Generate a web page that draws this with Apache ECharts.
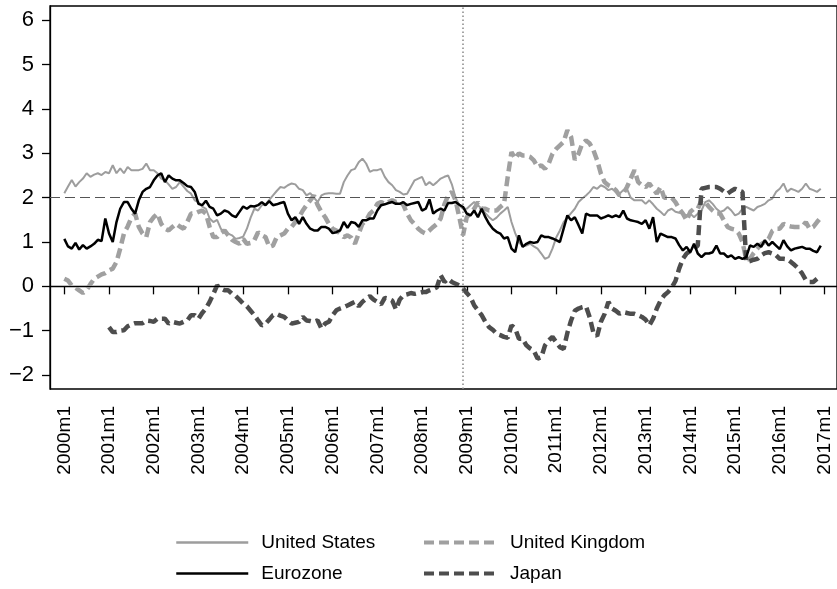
<!DOCTYPE html>
<html>
<head>
<meta charset="utf-8">
<script src="https://cdn.jsdelivr.net/npm/echarts@6/dist/echarts.min.js"></script>
<style>
  html, body { margin: 0; padding: 0; background: #fff; }
  #chart { width: 837px; height: 589px; }
</style>
</head>
<body>
<div id="chart"></div>
<script>
// monthly series, first value = 2000m1
const startYear = 2000;
const yearTicks = [2000, 2001, 2002, 2003, 2004, 2005, 2006, 2007, 2008, 2009, 2010, 2011, 2012, 2013, 2014, 2015, 2016, 2017];
const valueTicks = [-2, -1, 0, 1, 2, 3, 4, 5, 6];

const usValues = [
  2.10, 2.25, 2.40, 2.25, 2.35, 2.43, 2.55, 2.47, 2.52, 2.55, 2.51, 2.58,
  2.55, 2.73, 2.55, 2.66, 2.55, 2.69, 2.62, 2.62, 2.62, 2.65, 2.77, 2.62,
  2.62, 2.55, 2.43, 2.39, 2.30, 2.20, 2.24, 2.35, 2.25, 2.15, 2.09, 1.94,
  1.90, 1.80, 1.75, 1.53, 1.45, 1.50, 1.30, 1.22, 1.19, 1.15, 1.07, 1.09,
  1.12, 1.30, 1.55, 1.75, 1.71, 1.83, 1.85, 1.95, 2.05, 2.15, 2.24, 2.22,
  2.28, 2.32, 2.30, 2.20, 2.17, 2.05, 2.10, 2.00, 1.90, 2.05, 2.09, 2.10,
  2.10, 2.09, 2.09, 2.35, 2.50, 2.62, 2.65, 2.80, 2.88, 2.77, 2.58, 2.62,
  2.62, 2.65, 2.47, 2.35, 2.28, 2.17, 2.13, 2.07, 2.09, 2.24, 2.39, 2.43,
  2.47, 2.28, 2.35, 2.28, 2.35, 2.43, 2.47, 2.50, 2.30, 2.00, 1.83, 1.75,
  1.75, 1.83, 1.90, 1.83, 1.75, 1.65, 1.56, 1.49, 1.55, 1.64, 1.71, 1.79,
  1.45, 1.20, 1.00, 0.90, 0.92, 0.96, 0.90, 0.85, 0.74, 0.62, 0.66, 0.85,
  1.10, 1.26, 1.45, 1.55, 1.65, 1.75, 1.90, 1.98, 2.05, 2.13, 2.24, 2.20,
  2.28, 2.24, 2.17, 2.20, 2.13, 2.09, 2.17, 2.20, 2.00, 1.94, 1.94, 1.94,
  1.86, 1.94, 1.85, 1.75, 1.68, 1.60, 1.71, 1.75, 1.68, 1.66, 1.64, 1.60,
  1.64, 1.56, 1.64, 1.71, 1.90, 1.94, 1.86, 1.75, 1.68, 1.71, 1.79, 1.71,
  1.60, 1.64, 1.75, 1.79, 1.75, 1.71, 1.79, 1.82, 1.86, 1.94, 1.98, 2.13,
  2.20, 2.32, 2.13, 2.20, 2.17, 2.13, 2.20, 2.32, 2.20, 2.17, 2.13, 2.20
];

const euroValues = [
  1.07, 0.90, 0.85, 0.98, 0.83, 0.93, 0.85, 0.90, 0.96, 1.05, 1.02, 1.53,
  1.19, 1.00, 1.45, 1.75, 1.90, 1.90, 1.75, 1.64, 1.94, 2.13, 2.20, 2.24,
  2.39, 2.50, 2.55, 2.35, 2.50, 2.43, 2.39, 2.39, 2.33, 2.26, 2.24, 2.13,
  1.86, 1.83, 1.93, 1.79, 1.75, 1.60, 1.64, 1.71, 1.68, 1.60, 1.56, 1.68,
  1.80, 1.75, 1.81, 1.80, 1.83, 1.90, 1.83, 1.92, 1.83, 1.85, 1.88, 1.90,
  1.64, 1.49, 1.56, 1.41, 1.56, 1.41, 1.30, 1.26, 1.26, 1.34, 1.34, 1.30,
  1.20, 1.22, 1.26, 1.45, 1.32, 1.45, 1.43, 1.34, 1.49, 1.49, 1.53, 1.53,
  1.71, 1.83, 1.85, 1.88, 1.90, 1.86, 1.86, 1.90, 1.83, 1.86, 1.88, 1.90,
  1.71, 1.75, 1.96, 1.64, 1.71, 1.75, 1.71, 1.88, 1.88, 1.90, 1.84, 1.79,
  1.64, 1.60, 1.71, 1.56, 1.75, 1.56, 1.41, 1.30, 1.23, 1.19, 1.08, 1.11,
  0.85, 0.77, 1.15, 0.89, 0.96, 1.00, 0.98, 1.00, 1.15, 1.11, 1.11, 1.08,
  1.04, 1.00, 1.30, 1.60, 1.49, 1.56, 1.38, 1.19, 1.64, 1.60, 1.60, 1.60,
  1.53, 1.56, 1.60, 1.56, 1.60, 1.56, 1.71, 1.53, 1.49, 1.47, 1.45, 1.41,
  1.49, 1.30, 1.56, 1.00, 1.19, 1.15, 1.11, 1.11, 1.08, 0.93, 0.81, 0.89,
  0.77, 0.96, 0.74, 0.66, 0.74, 0.74, 0.77, 0.92, 0.74, 0.74, 0.66, 0.70,
  0.62, 0.66, 0.62, 0.66, 0.92, 0.89, 0.96, 0.89, 1.04, 0.92, 1.00, 0.92,
  0.84, 1.04, 0.90, 0.81, 0.85, 0.87, 0.89, 0.85, 0.85, 0.80, 0.77, 0.92
];

const ukValues = [
  0.17, 0.13, 0.02, -0.03, -0.09, -0.15, -0.08, 0.05, 0.17, 0.22, 0.27, 0.30,
  0.36, 0.40, 0.55, 0.85, 1.19, 1.35, 1.55, 1.64, 1.34, 1.19, 1.11, 1.45,
  1.56, 1.64, 1.41, 1.30, 1.26, 1.34, 1.41, 1.35, 1.30, 1.45, 1.64, 1.64,
  1.68, 1.71, 1.64, 1.34, 1.11, 1.11, 1.20, 1.26, 1.15, 1.05, 1.00, 0.96,
  1.07, 0.96, 0.98, 1.04, 1.22, 1.15, 1.11, 0.89, 0.92, 1.11, 1.15, 1.19,
  1.30, 1.34, 1.45, 1.56, 1.71, 1.83, 1.94, 2.05, 1.83, 1.68, 1.56, 1.41,
  1.30, 1.26, 1.19, 1.11, 1.15, 1.10, 0.96, 1.19, 1.41, 1.49, 1.64, 1.71,
  1.86, 1.90, 1.86, 1.90, 1.94, 1.90, 1.94, 1.83, 1.64, 1.49, 1.40, 1.30,
  1.23, 1.19, 1.26, 1.34, 1.41, 1.53, 1.85, 2.05, 2.13, 1.94, 1.56, 1.15,
  1.56, 1.65, 1.75, 1.90, 1.75, 1.75, 1.71, 1.71, 1.71, 1.79, 1.86, 2.47,
  3.03, 2.88, 3.00, 2.95, 2.95, 2.92, 2.84, 2.69, 2.73, 2.65, 2.77, 2.99,
  3.10, 3.18, 3.26, 3.52, 3.37, 2.85, 2.99, 3.22, 3.29, 3.22, 3.07, 2.84,
  2.54, 2.35, 2.28, 2.24, 2.17, 2.05, 2.09, 2.24, 2.43, 2.62, 2.35, 2.28,
  2.24, 2.32, 2.20, 2.09, 2.24, 2.00, 2.00, 2.00, 1.90, 1.75, 1.64, 1.49,
  1.68, 1.75, 1.75, 1.94, 1.90, 1.79, 1.71, 1.64, 1.64, 1.49, 1.34, 1.30,
  1.28, 1.19, 1.00, 0.60, 0.62, 0.75, 0.85, 0.95, 1.00, 1.07, 1.25, 1.30,
  1.30, 1.41, 1.37, 1.35, 1.34, 1.34, 1.34, 1.45, 1.30, 1.34, 1.45, 1.55
];

// Japan starts in 2001m1
const jpStart = 12;
const jpValues = [
  -0.92, -1.03, -1.03, -1.00, -0.99, -0.90, -0.86, -0.83, -0.83, -0.83, -0.77, -0.78,
  -0.80, -0.73, -0.73, -0.73, -0.84, -0.80, -0.82, -0.84, -0.80, -0.77, -0.65, -0.65,
  -0.73, -0.60, -0.50, -0.35, -0.17, 0.02, -0.05, -0.09, -0.09, -0.17, -0.22, -0.30,
  -0.39, -0.45, -0.55, -0.65, -0.77, -0.88, -0.84, -0.75, -0.65, -0.62, -0.66, -0.69,
  -0.77, -0.84, -0.82, -0.80, -0.69, -0.77, -0.78, -0.80, -0.77, -0.95, -0.84, -0.80,
  -0.65, -0.54, -0.50, -0.47, -0.43, -0.39, -0.35, -0.45, -0.35, -0.28, -0.22, -0.30,
  -0.35, -0.41, -0.26, -0.28, -0.32, -0.52, -0.30, -0.20, -0.18, -0.15, -0.17, -0.15,
  -0.13, -0.13, -0.09, -0.06, -0.02, 0.25, 0.10, 0.17, 0.10, 0.06, 0.02, -0.05,
  -0.15, -0.24, -0.43, -0.54, -0.65, -0.80, -0.92, -0.98, -1.07, -1.10, -1.14, -1.16,
  -0.88, -0.95, -1.18, -1.18, -1.33, -1.40, -1.45, -1.63, -1.60, -1.33, -1.22, -1.14,
  -1.26, -1.37, -1.41, -1.05, -0.77, -0.55, -0.50, -0.47, -0.45, -0.70, -1.05, -1.12,
  -0.80, -0.62, -0.35, -0.50, -0.55, -0.62, -0.58, -0.60, -0.62, -0.62, -0.65, -0.69,
  -0.75, -0.88, -0.73, -0.50, -0.32, -0.20, -0.13, -0.03, 0.12, 0.40, 0.62, 0.74,
  0.80, 0.85, 0.92, 2.20, 2.22, 2.24, 2.24, 2.24, 2.20, 2.14, 2.09, 2.15,
  2.20, 2.16, 2.13, 0.55, 0.57, 0.60, 0.62, 0.70, 0.75, 0.77, 0.74, 0.70,
  0.62, 0.62, 0.61, 0.55, 0.48, 0.40, 0.29, 0.14, 0.10, 0.10, 0.17
];

const crisisDate = 2008.9; // vertical dotted line

// month index -> decimal year
function toPairs(values, offset) {
  return values.map((v, i) => [startYear + (i + offset) / 12, v]);
}

const font = 'Liberation Sans, Arial, Helvetica, sans-serif';
const chart = echarts.init(document.getElementById('chart'), null, { renderer: 'canvas' });

function legendItem(name, left, top, gap, lineWidth) {
  return {
    data: [name],
    left: left,
    top: top,
    padding: 0,
    itemWidth: 72,
    itemHeight: 14,
    selectedMode: false,
    itemStyle: { opacity: 0 }, // hide the circle marker, keep the line
    lineStyle: { width: lineWidth },
    textStyle: { fontFamily: font, fontSize: 19, color: '#000', padding: [0, 0, 0, gap] }
  };
}

const option = {
  animation: false,
  backgroundColor: '#fff',
  grid: {
    left: 50, right: -2, top: 6, bottom: 200,
    show: true, borderColor: '#000', borderWidth: 1.3
  },
  legend: [
    legendItem('United States', 175, 533, 8, 2.5),
    legendItem('Eurozone', 175, 564, 8, 2.5),
    legendItem('United Kingdom', 422, 533, 9, 4),
    legendItem('Japan', 422, 564, 9, 4)
  ],
  xAxis: {
    type: 'value',
    min: 1999.68,
    max: 2017.28,
    splitLine: { show: false },
    axisLine: { lineStyle: { color: '#000', width: 1.3 } },
    axisTick: { customValues: yearTicks, length: 8, lineStyle: { color: '#000', width: 1.3 } },
    axisLabel: {
      customValues: yearTicks,
      rotate: 90,
      margin: 17,
      fontFamily: font,
      fontSize: 19,
      color: '#000',
      formatter: v => Math.round(v) + 'm1'
    }
  },
  yAxis: {
    type: 'value',
    min: -2.315,
    max: 6.322,
    splitLine: { show: false },
    axisLine: { show: true, lineStyle: { color: '#000', width: 1.3 } },
    axisTick: { show: true, customValues: valueTicks, length: 8, lineStyle: { color: '#000', width: 1.3 } },
    axisLabel: {
      customValues: valueTicks,
      margin: 16,
      fontFamily: font,
      fontSize: 22,
      color: '#000',
      formatter: v => (v < 0 ? '\u2212' + Math.abs(v) : String(v))
    }
  },
  series: [
    {
      name: 'refs',
      type: 'line',
      data: [],
      z: 1,
      markLine: {
        silent: true,
        symbol: 'none',
        label: { show: false },
        data: [
          { yAxis: 2, lineStyle: { type: [10, 5], color: '#555', width: 1.2 } },
          { yAxis: 0, lineStyle: { type: 'solid', color: '#000', width: 1.2 } },
          { xAxis: crisisDate, lineStyle: { type: [1.5, 2.5], color: '#888', width: 1.5 } }
        ]
      }
    },
    {
      name: 'United States',
      type: 'line',
      data: toPairs(usValues, 0),
      showSymbol: false,
      symbol: 'none',
      z: 2,
      lineStyle: { color: '#9d9d9d', width: 2 },
      itemStyle: { color: '#9d9d9d' }
    },
    {
      name: 'United Kingdom',
      type: 'line',
      data: toPairs(ukValues, 0),
      showSymbol: false,
      symbol: 'none',
      z: 3,
      lineStyle: { color: '#a0a0a0', width: 4.5, type: [10, 5] },
      itemStyle: { color: '#a0a0a0' }
    },
    {
      name: 'Japan',
      type: 'line',
      data: toPairs(jpValues, jpStart),
      showSymbol: false,
      symbol: 'none',
      z: 4,
      lineStyle: { color: '#4d4d4d', width: 4.5, type: [10, 5] },
      itemStyle: { color: '#4d4d4d' }
    },
    {
      name: 'Eurozone',
      type: 'line',
      data: toPairs(euroValues, 0),
      showSymbol: false,
      symbol: 'none',
      z: 5,
      lineStyle: { color: '#000', width: 2.5 },
      itemStyle: { color: '#000' }
    }
  ]
};

chart.setOption(option);
</script>
</body>
</html>
